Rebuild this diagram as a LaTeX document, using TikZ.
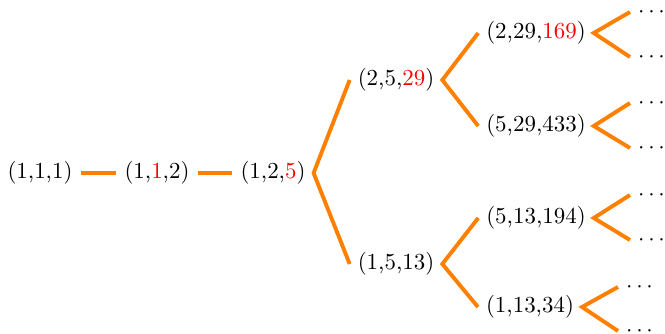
\documentclass[tikz,border=0pt]{standalone}
\begin{document}
\begin{tikzpicture}[x=0.4361pt,y=-0.4361pt,
  tup/.style={inner sep=0.3333em},
  dotn/.style={inner sep=0.3333em,anchor=west},
  edge/.style={draw=orange,line width=1.7pt}]
\useasboundingbox (0,0) rectangle (665,334);
\node[tup] (a) at (40,173) {(1,1,1)};
\node[tup] (b) at (157,173) {(1,\textcolor{red}{1},2)};
\node[tup] (c) at (273,173) {(1,2,\textcolor{red}{5})};
\node[tup] (d) at (396,80) {(2,5,\textcolor{red}{29})};
\node[tup] (e) at (396,264) {(1,5,13)};
\node[tup] (f) at (536,33) {(2,29,\textcolor{red}{169})};
\node[tup] (g) at (536,126) {(5,29,433)};
\node[tup] (h) at (536,218) {(5,13,194)};
\node[tup] (i) at (530,307) {(1,13,34)};
\node[dotn] (f1) at (630,12) {$\cdots$};
\node[dotn] (f2) at (630,57) {$\cdots$};
\node[dotn] (g1) at (630,103) {$\cdots$};
\node[dotn] (g2) at (630,148) {$\cdots$};
\node[dotn] (h1) at (630,195) {$\cdots$};
\node[dotn] (h2) at (630,240) {$\cdots$};
\node[dotn] (i1) at (618,287) {$\cdots$};
\node[dotn] (i2) at (618,331) {$\cdots$};
\draw[edge] (a.east) -- (b.west);
\draw[edge] (b.east) -- (c.west);
\draw[edge] (d.west) -- (c.east) -- (e.west);
\draw[edge] (f.west) -- (d.east) -- (g.west);
\draw[edge] (h.west) -- (e.east) -- (i.west);
\draw[edge] (f1.west) -- (f.east) -- (f2.west);
\draw[edge] (g1.west) -- (g.east) -- (g2.west);
\draw[edge] (h1.west) -- (h.east) -- (h2.west);
\draw[edge] (i1.west) -- (i.east) -- (i2.west);
\end{tikzpicture}
\end{document}
